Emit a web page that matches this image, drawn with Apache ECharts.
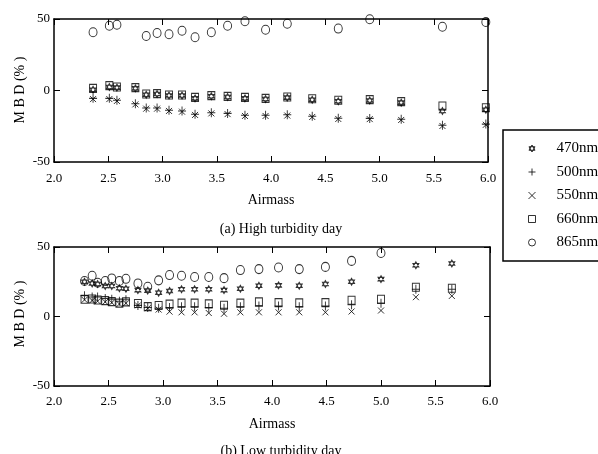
<!DOCTYPE html>
<html><head><meta charset="utf-8">
<script src="https://cdn.jsdelivr.net/npm/echarts@6/dist/echarts.min.js"></script>
<style>html,body{margin:0;padding:0;background:#fff}#c{width:598px;height:454px}</style>
</head><body><div id="c"></div>
<script>
// (a) High turbidity day
const airA   = [2.36,2.51,2.58,2.75,2.85,2.95,3.06,3.18,3.30,3.45,3.60,3.76,3.95,4.15,4.38,4.62,4.91,5.20,5.58,5.98];
const hA470  = [0.5,2.5,2.0,1.5,-3.0,-2.5,-3.5,-3.5,-5.5,-4.0,-4.5,-5.5,-6.0,-5.0,-6.5,-7.5,-7.0,-8.5,-14.3,-13.5];
const hA500  = [-5.5,-5.5,-6.8,-9.2,-12.2,-12.2,-13.8,-14.3,-16.6,-15.5,-16.0,-17.3,-17.3,-17.0,-18.0,-19.4,-19.5,-20.1,-24.3,-23.5];
const hA550  = [-6.0,-6.0,-7.3,-9.7,-12.7,-12.7,-14.3,-14.8,-17.1,-16.0,-16.5,-17.8,-17.8,-17.5,-18.5,-19.9,-20.0,-20.6,-24.8,-24.0];
const hA660  = [1.5,3.4,2.4,2.0,-2.4,-2.2,-3.1,-3.1,-4.8,-3.6,-4.1,-4.8,-5.5,-4.5,-5.8,-6.8,-6.4,-7.8,-10.8,-12.0];
const hA865  = [40.7,45.3,46.0,null,38.1,40.2,39.3,41.8,37.2,40.7,45.3,48.4,42.5,46.7,50.2,43.3,49.8,null,44.6,47.9];
// (b) Low turbidity day
const airB   = [2.28,2.35,2.40,2.47,2.53,2.60,2.66,2.77,2.86,2.96,3.06,3.17,3.29,3.42,3.56,3.71,3.88,4.06,4.25,4.49,4.73,5.00,5.32,5.65];
const lB470  = [25.0,23.8,23.4,21.9,21.9,20.3,20.0,19.0,18.6,17.1,18.4,19.6,19.6,19.6,19.0,20.0,22.1,22.4,22.1,23.4,25.0,26.9,36.9,38.1];
const lB500  = [15.0,14.0,14.0,13.0,12.5,11.0,12.0,8.0,6.5,6.0,6.5,7.0,7.0,6.5,6.0,7.0,7.5,7.5,7.0,7.5,8.4,9.6,19.6,19.6];
const lB550  = [12.0,11.5,11.0,10.5,10.0,9.0,9.5,8.0,6.0,5.0,3.5,3.0,3.0,2.5,2.0,3.0,3.0,3.0,3.0,3.0,3.6,4.3,13.9,14.8];
const lB660  = [12.4,12.6,11.9,11.4,10.7,9.6,10.5,9.3,7.1,7.9,8.9,9.6,9.6,9.1,8.1,9.6,10.5,10.0,9.8,10.0,11.7,12.4,21.0,20.3];
const lB865  = [25.5,29.3,24.3,25.5,27.4,25.5,27.1,23.8,21.4,26.0,29.8,29.3,28.4,28.4,27.6,33.4,34.1,35.3,34.1,35.7,40.0,45.7,null,null];

const names = ['470nm','500nm','550nm','660nm','865nm'];
const xTicks = [2.0,2.5,3.0,3.5,4.0,4.5,5.0,5.5,6.0];
const yTicks = [-50,0,50];
const yTitle = 'M B D (% )';

const SYM = {
  '470nm': 'path://M5,0L9.33,7.5L0.67,7.5Z M5,10L0.67,2.5L9.33,2.5Z',
  '500nm': 'path://M5,0L5,10M0,5L10,5',
  '550nm': 'path://M0,0L10,10M10,0L0,10',
  '660nm': 'rect',
  '865nm': 'circle'
};
const SIZE = {'470nm':[6,7],'500nm':[8,9],'550nm':[6,6],'660nm':[7,8],'865nm':[8,9]};
const FONT = 'Liberation Serif';

function pairs(xs, ys){ const out=[]; xs.forEach((x,i)=>{ if(ys[i]!=null) out.push([x,ys[i]]); }); return out; }
function mk(name, xs, ys, idx){
  return {type:'scatter', name, xAxisIndex:idx*2, yAxisIndex:idx*2, data:pairs(xs,ys),
    symbol:SYM[name], symbolSize:SIZE[name], clip:true, silent:true,
    itemStyle:{color:'rgba(0,0,0,0)', borderColor:'#000', borderWidth:1}};
}
const setA = [hA470,hA500,hA550,hA660,hA865];
const setB = [lB470,lB500,lB550,lB660,lB865];
const series = [];
names.forEach((n,i)=>series.push(mk(n, airA, setA[i], 0)));
names.forEach((n,i)=>series.push(mk(n, airB, setB[i], 1)));

const line = {show:true, onZero:false, lineStyle:{color:'#000', width:1.5}};
const tick = {show:true, inside:true, length:6, lineStyle:{color:'#000', width:1}};
function xMain(g, gap){ return {type:'value', gridIndex:g, position:'bottom', min:xTicks[0], max:xTicks[xTicks.length-1], interval:0.5,
  axisLine:line, axisTick:tick, splitLine:{show:false},
  axisLabel:{margin:gap, color:'#000', fontFamily:FONT, fontSize:13, formatter:v=>v.toFixed(1)},
  name:'Airmass', nameLocation:'middle', nameGap:31,
  nameTextStyle:{color:'#000', fontFamily:FONT, fontSize:14}}; }
function xTop(g){ return {type:'value', gridIndex:g, position:'top', min:2, max:6, interval:0.5,
  axisLine:line, axisTick:tick, axisLabel:{show:false}, splitLine:{show:false}}; }
function yMain(g){ return {type:'value', gridIndex:g, position:'left', min:yTicks[0], max:yTicks[yTicks.length-1], interval:50,
  axisLine:line, axisTick:tick, splitLine:{show:false},
  axisLabel:{margin:4, color:'#000', fontFamily:FONT, fontSize:13}}; }
function yRight(g){ return {type:'value', gridIndex:g, position:'right', min:-50, max:50, interval:50,
  axisLine:line, axisTick:tick, axisLabel:{show:false}, splitLine:{show:false}}; }
function yName(cy){ return {type:'text', x:20, y:cy, rotation:Math.PI/2,
  style:{text:yTitle, fill:'#000', font:'14px "Liberation Serif"', textAlign:'center', textVerticalAlign:'middle'}}; }

const chart = echarts.init(document.getElementById('c'), null, {renderer:'canvas'});
chart.setOption({
  backgroundColor:'#fff',
  animation:false,
  grid:[{left:54, top:19, width:434, height:143},{left:54, top:247, width:436, height:139}],
  xAxis:[xMain(0,10), xTop(0), xMain(1,9), xTop(1)],
  yAxis:[yMain(0), yRight(0), yMain(1), yRight(1)],
  graphic:[yName(90), yName(314)],
  title:[
    {text:'(a) High turbidity day', left:276, top:217, textAlign:'center', textStyle:{color:'#000', fontFamily:FONT, fontSize:14, fontWeight:'normal'}},
    {text:'(b) Low turbidity day', left:276, top:439, textAlign:'center', textStyle:{color:'#000', fontFamily:FONT, fontSize:14, fontWeight:'normal'}}
  ],
  legend:{data:names, orient:'vertical', left:503, top:130, padding:[11,40,11,25], itemGap:8.5,
    itemWidth:7, itemHeight:7, borderColor:'#000', borderWidth:1.5, backgroundColor:'#fff',
    itemStyle:{color:'rgba(0,0,0,0)', borderColor:'#000', borderWidth:1},
    textStyle:{color:'#000', fontFamily:FONT, fontSize:15, lineHeight:14, padding:[0,0,0,16]}},
  series
});
</script></body></html>
